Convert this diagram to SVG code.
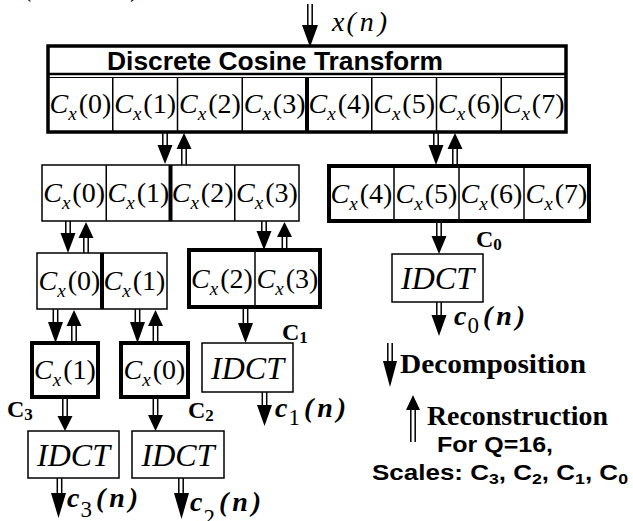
<svg xmlns="http://www.w3.org/2000/svg" width="633" height="521" viewBox="0 0 633 521">
<defs>
<style>
.bx{fill:#fff;stroke:#000;stroke-width:1.5}
.bk{fill:#fff;stroke:#000;stroke-width:4}
.dv{stroke:#000;stroke-width:1.5}
.dk{stroke:#000;stroke-width:4}
.cx{font-family:"Liberation Serif",serif;font-size:28px;fill:#000}
.i{font-style:italic}
.sb{font-style:italic;font-size:19px}
.idct{font-family:"Liberation Serif",serif;font-style:italic;font-size:32px;text-anchor:middle}
.lab{font-family:"Liberation Serif",serif;font-weight:bold;font-size:24px}
.ls{font-size:17px}
.out{font-family:"Liberation Serif",serif;font-weight:bold;font-style:italic;font-size:28px}
.os{font-weight:normal;font-style:normal;font-size:23px}
.sh{stroke:#000;stroke-width:1.5;fill:none}
.hd{fill:#000}
.leg{font-family:"Liberation Serif",serif;font-weight:bold;font-size:27px}
.sans{font-family:"Liberation Sans",Arial,sans-serif;font-weight:bold}
</style>
</defs>

<text class="cx" y="-4"><tspan x="22">(</tspan><tspan x="130">)</tspan></text>

<g id="dct">
<rect x="48" y="46" width="518" height="86" fill="#fff" stroke="#000" stroke-width="3.5"/>
<line x1="48" y1="74" x2="566" y2="74" stroke="#000" stroke-width="2.5"/>
<line x1="48" y1="77.5" x2="566" y2="77.5" stroke="#000" stroke-width="1"/>
<text class="sans" x="107" y="70" font-size="25" textLength="336" lengthAdjust="spacingAndGlyphs">Discrete Cosine Transform</text>
<line class="dv" x1="112.75" y1="77" x2="112.75" y2="132"/>
<line class="dv" x1="177.5" y1="77" x2="177.5" y2="132"/>
<line class="dv" x1="242.25" y1="77" x2="242.25" y2="132"/>
<line class="dk" x1="307" y1="77" x2="307" y2="132"/>
<line class="dv" x1="371.75" y1="77" x2="371.75" y2="132"/>
<line class="dv" x1="436.5" y1="77" x2="436.5" y2="132"/>
<line class="dv" x1="501.25" y1="77" x2="501.25" y2="132"/>
<text class="cx" x="80.4" y="113" text-anchor="middle"><tspan class="i">C</tspan><tspan class="sb" dy="7">x</tspan><tspan dy="-7" dx="2">(0)</tspan></text>
<text class="cx" x="145.1" y="113" text-anchor="middle"><tspan class="i">C</tspan><tspan class="sb" dy="7">x</tspan><tspan dy="-7" dx="2">(1)</tspan></text>
<text class="cx" x="209.9" y="113" text-anchor="middle"><tspan class="i">C</tspan><tspan class="sb" dy="7">x</tspan><tspan dy="-7" dx="2">(2)</tspan></text>
<text class="cx" x="274.6" y="113" text-anchor="middle"><tspan class="i">C</tspan><tspan class="sb" dy="7">x</tspan><tspan dy="-7" dx="2">(3)</tspan></text>
<text class="cx" x="339.4" y="113" text-anchor="middle"><tspan class="i">C</tspan><tspan class="sb" dy="7">x</tspan><tspan dy="-7" dx="2">(4)</tspan></text>
<text class="cx" x="404.1" y="113" text-anchor="middle"><tspan class="i">C</tspan><tspan class="sb" dy="7">x</tspan><tspan dy="-7" dx="2">(5)</tspan></text>
<text class="cx" x="468.9" y="113" text-anchor="middle"><tspan class="i">C</tspan><tspan class="sb" dy="7">x</tspan><tspan dy="-7" dx="2">(6)</tspan></text>
<text class="cx" x="533.6" y="113" text-anchor="middle"><tspan class="i">C</tspan><tspan class="sb" dy="7">x</tspan><tspan dy="-7" dx="2">(7)</tspan></text>
</g>

<g id="row2-left">
<rect class="bx" x="42" y="165" width="257" height="56"/>
<line class="dv" x1="106.25" y1="165" x2="106.25" y2="221"/>
<line class="dk" x1="170.5" y1="165" x2="170.5" y2="221"/>
<line class="dv" x1="234.75" y1="165" x2="234.75" y2="221"/>
<text class="cx" x="74.1" y="202" text-anchor="middle"><tspan class="i">C</tspan><tspan class="sb" dy="7">x</tspan><tspan dy="-7" dx="2">(0)</tspan></text>
<text class="cx" x="138.4" y="202" text-anchor="middle"><tspan class="i">C</tspan><tspan class="sb" dy="7">x</tspan><tspan dy="-7" dx="2">(1)</tspan></text>
<text class="cx" x="202.6" y="202" text-anchor="middle"><tspan class="i">C</tspan><tspan class="sb" dy="7">x</tspan><tspan dy="-7" dx="2">(2)</tspan></text>
<text class="cx" x="266.9" y="202" text-anchor="middle"><tspan class="i">C</tspan><tspan class="sb" dy="7">x</tspan><tspan dy="-7" dx="2">(3)</tspan></text>
</g>

<g id="row2-right">
<rect class="bk" x="329" y="166" width="260" height="55"/>
<line class="dv" x1="394" y1="166" x2="394" y2="221"/>
<line class="dv" x1="459" y1="166" x2="459" y2="221"/>
<line class="dv" x1="524" y1="166" x2="524" y2="221"/>
<text class="cx" x="361.5" y="202.5" text-anchor="middle"><tspan class="i">C</tspan><tspan class="sb" dy="7">x</tspan><tspan dy="-7" dx="2">(4)</tspan></text>
<text class="cx" x="426.5" y="202.5" text-anchor="middle"><tspan class="i">C</tspan><tspan class="sb" dy="7">x</tspan><tspan dy="-7" dx="2">(5)</tspan></text>
<text class="cx" x="491.5" y="202.5" text-anchor="middle"><tspan class="i">C</tspan><tspan class="sb" dy="7">x</tspan><tspan dy="-7" dx="2">(6)</tspan></text>
<text class="cx" x="556.5" y="202.5" text-anchor="middle"><tspan class="i">C</tspan><tspan class="sb" dy="7">x</tspan><tspan dy="-7" dx="2">(7)</tspan></text>
</g>

<g id="row3-left">
<rect class="bx" x="37" y="253" width="130" height="56"/>
<line class="dk" x1="102" y1="253" x2="102" y2="309"/>
<text class="cx" x="69.5" y="290" text-anchor="middle"><tspan class="i">C</tspan><tspan class="sb" dy="7">x</tspan><tspan dy="-7" dx="2">(0)</tspan></text>
<text class="cx" x="134.5" y="290" text-anchor="middle"><tspan class="i">C</tspan><tspan class="sb" dy="7">x</tspan><tspan dy="-7" dx="2">(1)</tspan></text>
</g>

<g id="row3-right">
<rect class="bk" x="189" y="250" width="131" height="57"/>
<line class="dv" x1="255" y1="250" x2="255" y2="307"/>
<text class="cx" x="222" y="287.5" text-anchor="middle"><tspan class="i">C</tspan><tspan class="sb" dy="7">x</tspan><tspan dy="-7" dx="2">(2)</tspan></text>
<text class="cx" x="287.5" y="287.5" text-anchor="middle"><tspan class="i">C</tspan><tspan class="sb" dy="7">x</tspan><tspan dy="-7" dx="2">(3)</tspan></text>
</g>

<g id="leaf-c3">
<rect class="bk" x="32" y="343" width="66" height="54"/>
<text class="cx" x="65" y="379" text-anchor="middle"><tspan class="i">C</tspan><tspan class="sb" dy="7">x</tspan><tspan dy="-7" dx="2">(1)</tspan></text>
</g>
<g id="leaf-c2">
<rect class="bk" x="121" y="343" width="67" height="54"/>
<text class="cx" x="154.5" y="379" text-anchor="middle"><tspan class="i">C</tspan><tspan class="sb" dy="7">x</tspan><tspan dy="-7" dx="2">(0)</tspan></text>
</g>

<g id="idct-c0">
<rect class="bx" x="392" y="254" width="91" height="48"/>
<text class="idct" x="437.5" y="289">IDCT</text>
</g>
<g id="idct-c1">
<rect class="bx" x="202" y="343" width="91" height="49"/>
<text class="idct" x="247.5" y="379">IDCT</text>
</g>
<g id="idct-c3">
<rect class="bx" x="28" y="431" width="91" height="47"/>
<text class="idct" x="73.5" y="466">IDCT</text>
</g>
<g id="idct-c2">
<rect class="bx" x="132" y="431" width="92" height="47"/>
<text class="idct" x="178" y="466">IDCT</text>
</g>

<g id="labels">
<text class="cx i" x="332" y="31" font-size="27">x<tspan dx="2">(</tspan><tspan dx="4">n</tspan><tspan dx="4">)</tspan></text>
<text class="lab" x="476" y="247">C<tspan class="ls" dy="3">0</tspan></text>
<text class="lab" x="282" y="340">C<tspan class="ls" dy="3">1</tspan></text>
<text class="lab" x="7" y="417">C<tspan class="ls" dy="3">3</tspan></text>
<text class="lab" x="188" y="418">C<tspan class="ls" dy="3">2</tspan></text>
<text class="out" x="454" y="325">c<tspan class="os" dx="1" dy="8">0</tspan><tspan dx="4" dy="-8">(</tspan><tspan dx="4">n</tspan><tspan dx="4">)</tspan></text>
<text class="out" x="275" y="417">c<tspan class="os" dx="1" dy="8">1</tspan><tspan dx="4" dy="-8">(</tspan><tspan dx="4">n</tspan><tspan dx="4">)</tspan></text>
<text class="out" x="67" y="507">c<tspan class="os" dx="1" dy="10">3</tspan><tspan dx="4" dy="-10">(</tspan><tspan dx="4">n</tspan><tspan dx="4">)</tspan></text>
<text class="out" x="190" y="511">c<tspan class="os" dx="1" dy="14">2</tspan><tspan dx="4" dy="-14">(</tspan><tspan dx="4">n</tspan><tspan dx="4">)</tspan></text>
</g>

<g id="legend">
<text class="leg" x="400" y="373" textLength="186" lengthAdjust="spacingAndGlyphs">Decomposition</text>
<text class="leg" x="427" y="425" textLength="181" lengthAdjust="spacingAndGlyphs">Reconstruction</text>
<text class="sans" x="437" y="452" font-size="22" textLength="116" lengthAdjust="spacingAndGlyphs">For Q=16,</text>
<text class="sans" x="372" y="480" font-size="22" textLength="256" lengthAdjust="spacingAndGlyphs">Scales: C<tspan font-size="15" dy="4">3</tspan><tspan dy="-4">, C</tspan><tspan font-size="15" dy="4">2</tspan><tspan dy="-4">, C</tspan><tspan font-size="15" dy="4">1</tspan><tspan dy="-4">, C</tspan><tspan font-size="15" dy="4">0</tspan></text>
</g>

<g id="connectors">
<path class="sh" d="M307.8 4V26M312.2 4V26"/><polygon class="hd" points="302,25 318,25 310,47"/>
<path class="sh" d="M162.8 132V146M167.2 132V146"/><polygon class="hd" points="157.5,145 172.5,145 165,164"/>
<path class="sh" d="M181.8 148V165M186.2 148V165"/><polygon class="hd" points="176.5,149 191.5,149 184,133"/>
<path class="sh" d="M433.8 132V146M438.2 132V146"/><polygon class="hd" points="428.5,145 443.5,145 436,165"/>
<path class="sh" d="M452.8 148V166M457.2 148V166"/><polygon class="hd" points="447.5,149 462.5,149 455,133"/>
<path class="sh" d="M65.8 221V234M70.2 221V234"/><polygon class="hd" points="60.5,233 75.5,233 68,253"/>
<path class="sh" d="M83.8 237V253M88.2 237V253"/><polygon class="hd" points="78.5,238 93.5,238 86,222"/>
<path class="sh" d="M261.8 221V232M266.2 221V232"/><polygon class="hd" points="256.5,231 271.5,231 264,250"/>
<path class="sh" d="M282.3 236V250M286.7 236V250"/><polygon class="hd" points="277,237 292,237 284.5,222"/>
<path class="sh" d="M436.8 221V237M441.2 221V237"/><polygon class="hd" points="431.5,236 446.5,236 439,254"/>
<path class="sh" d="M436.8 302V316M441.2 302V316"/><polygon class="hd" points="431.5,315 446.5,315 439,336"/>
<path class="sh" d="M53.3 309V323M57.7 309V323"/><polygon class="hd" points="48,322 63,322 55.5,343"/>
<path class="sh" d="M71.8 325V343M76.2 325V343"/><polygon class="hd" points="66.5,326 81.5,326 74,310"/>
<path class="sh" d="M135.3 309V323M139.7 309V323"/><polygon class="hd" points="130,322 145,322 137.5,343"/>
<path class="sh" d="M153.3 325V343M157.7 325V343"/><polygon class="hd" points="148,326 163,326 155.5,310"/>
<path class="sh" d="M243.3 307V324M247.7 307V324"/><polygon class="hd" points="238,323 253,323 245.5,343"/>
<path class="sh" d="M262.3 392V406M266.7 392V406"/><polygon class="hd" points="257,405 272,405 264.5,426"/>
<path class="sh" d="M62.8 397V417M67.2 397V417"/><polygon class="hd" points="57.5,416 72.5,416 65,431"/>
<path class="sh" d="M153.3 397V416M157.7 397V416"/><polygon class="hd" points="148,415 163,415 155.5,431"/>
<path class="sh" d="M57.3 478V494M61.7 478V494"/><polygon class="hd" points="51,493 66,493 58.5,518"/>
<path class="sh" d="M178.8 478V494M183.2 478V494"/><polygon class="hd" points="174,493 189,493 181.5,519"/>
<path class="sh" d="M387.8 343V362M392.2 343V362"/><polygon class="hd" points="383,361 397,361 390,387"/>
<path class="sh" d="M410.8 409V442M415.2 409V442"/><polygon class="hd" points="406,410 420,410 413,395"/>
</g>
</svg>
